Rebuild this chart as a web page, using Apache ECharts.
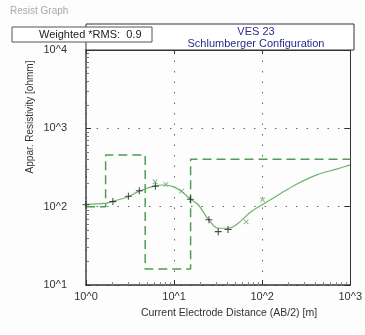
<!DOCTYPE html>
<html>
<head>
<meta charset="utf-8">
<script src="https://cdn.jsdelivr.net/npm/echarts@6/dist/echarts.min.js"></script>
<style>
  html, body { margin: 0; padding: 0; background: #fdfdfd; }
  #chart { width: 365px; height: 335px; }
</style>
</head>
<body>
<div id="chart"></div>
<script>
// Sounding VES 23 – apparent resistivity vs. AB/2 (log–log)

// Header texts
const windowTitle = 'Resist Graph';
const titleLines = ['VES 23', 'Schlumberger Configuration'];
const rmsLabel = 'Weighted *RMS:  0.9';
const xAxisName = 'Current Electrode Distance (AB/2) [m]';
const yAxisName = 'Appar. Resistivity [ohmm]';

// Tick labels by decade exponent
const xTickLabels = { 0: '10^0', 1: '10^1', 2: '10^2', 3: '10^3' };
const yTickLabels = { 1: '10^1', 2: '10^2', 3: '10^3', 4: '10^4' };

// Layered model: resistivity of each layer and AB/2 at each boundary
const layerRho = [100, 457, 16, 403];
const layerBounds = [1.67, 4.7, 15.4];

// Field measurements (black +)
const measAB  = [1.0, 2.02, 3.03, 4.03, 6.13, 15.3, 24.9, 31.7, 41];
const measRho = [106, 116, 136, 160, 182, 124, 68, 48, 51];

// Second set of readings (green x)
const altAB  = [6.08, 8.07, 12.2, 65.7, 101];
const altRho = [208, 192, 158, 64, 122];

// Calculated response curve of the model
const curveAB  = [1.0, 1.63, 2.0, 3.03, 4.03, 6.08, 7.67, 9.9, 12.2, 15.3, 18.9, 24.5, 31.7, 41, 53, 74.7, 106, 149, 249, 417, 699, 1000];
const curveRho = [107, 110, 117, 134, 158, 184, 189, 179, 156, 125, 105, 69, 53, 53, 61, 86, 110, 139, 195, 255, 302, 341];

// Build the step outline of the model
const modelPts = [];
let xStart = 1;
layerRho.forEach((rho, i) => {
  const xEnd = i < layerBounds.length ? layerBounds[i] : 1000;
  modelPts.push([xStart, rho], [xEnd, rho]);
  xStart = xEnd;
});

const zip = (a, b) => a.map((v, i) => [v, b[i]]);

const plusPath = 'path://M3.4,0h1.2v3.4h3.4v1.2h-3.4v3.4h-1.2v-3.4h-3.4v-1.2h3.4z';
const FONT = 'Arial, "Liberation Sans", sans-serif';

const expOf = v => Math.round(Math.log10(v));

const chart = echarts.init(document.getElementById('chart'), null, { renderer: 'canvas' });

const gridLine = { show: true, lineStyle: { color: '#666', width: 1, type: [1.5, 9] } };

chart.setOption({
  animation: false,
  backgroundColor: '#fdfdfd',
  grid: { left: 86, right: 11, top: 50, bottom: 50, containLabel: false },
  xAxis: [{
    type: 'log', logBase: 10, min: 1, max: 1000,
    axisLine: { show: true, lineStyle: { color: '#333', width: 1.5 } },
    axisTick: { show: true, inside: true, length: 5, lineStyle: { color: '#333' } },
    minorTick: { show: true, splitNumber: 9, length: 3, lineStyle: { color: '#888' } },
    axisLabel: { color: '#333', fontSize: 11, fontFamily: FONT, margin: 6,
                 formatter: v => xTickLabels[expOf(v)] || '' },
    splitLine: gridLine
  }, {
    type: 'log', logBase: 10, min: 1, max: 1000, position: 'top',
    axisLine: { show: true, lineStyle: { color: '#333', width: 1 } },
    axisTick: { show: true, inside: true, length: 4, lineStyle: { color: '#333' } },
    axisLabel: { show: false }, splitLine: { show: false }
  }],
  yAxis: [{
    type: 'log', logBase: 10, min: 10, max: 10000,
    axisLine: { show: true, lineStyle: { color: '#444', width: 1.5 } },
    axisTick: { show: true, inside: true, length: 5, lineStyle: { color: '#333' } },
    minorTick: { show: true, splitNumber: 9, length: 3, lineStyle: { color: '#777' } },
    axisLabel: { color: '#333', fontSize: 11, fontFamily: FONT, margin: 19,
                 formatter: v => yTickLabels[expOf(v)] || '' },
    splitLine: gridLine
  }, {
    type: 'log', logBase: 10, min: 10, max: 10000, position: 'right',
    axisLine: { show: true, lineStyle: { color: '#333', width: 1 } },
    axisTick: { show: true, inside: true, length: 6, lineStyle: { color: '#333' } },
    axisLabel: { show: false }, splitLine: { show: false }
  }],
  series: [{
    name: 'model',
    type: 'line',
    data: modelPts,
    showSymbol: false,
    lineStyle: { color: '#4f9f4f', width: 1.5, type: [9, 5] },
    z: 2
  }, {
    name: 'calculated',
    type: 'line',
    data: zip(curveAB, curveRho),
    smooth: 0.35,
    showSymbol: false,
    lineStyle: { color: '#6db46d', width: 1.2 },
    z: 3
  }, {
    name: 'measured',
    type: 'scatter',
    data: zip(measAB, measRho),
    symbol: plusPath,
    symbolSize: 7,
    itemStyle: { color: '#1e1e1e' },
    z: 5
  }, {
    name: 'alternate',
    type: 'scatter',
    data: zip(altAB, altRho),
    symbol: plusPath,
    symbolSize: 6.5,
    symbolRotate: 45,
    itemStyle: { color: '#6aaa6a' },
    z: 4
  }],
  graphic: [{
    type: 'text', left: 10, top: 6,
    style: { text: windowTitle, fill: '#a9a9a9', font: '10px ' + FONT }
  }, {
    type: 'rect', shape: { x: 86, y: 24, width: 268, height: 26 },
    style: { fill: '#ffffff', stroke: '#333', lineWidth: 1 }, z: 10
  }, {
    type: 'text', x: 256, y: 32,
    style: { text: titleLines[0], fill: '#2b2b8c', font: '11px ' + FONT, align: 'center', verticalAlign: 'middle' }, z: 11
  }, {
    type: 'text', x: 256, y: 44,
    style: { text: titleLines[1], fill: '#2b2b8c', font: '11px ' + FONT, align: 'center', verticalAlign: 'middle' }, z: 11
  }, {
    type: 'rect', shape: { x: 12, y: 27, width: 140, height: 15 },
    style: { fill: '#ffffff', stroke: '#555', lineWidth: 1 }, z: 12
  }, {
    type: 'text', x: 39, y: 35,
    style: { text: rmsLabel, fill: '#222', font: '11px ' + FONT, align: 'left', verticalAlign: 'middle' }, z: 13
  }, {
    type: 'text', x: 30, y: 117, rotation: Math.PI / 2,
    style: { text: yAxisName, fill: '#333', font: '10px ' + FONT, align: 'center', verticalAlign: 'middle' }
  }, {
    type: 'text', x: 229, y: 313,
    style: { text: xAxisName, fill: '#333', font: '10.5px ' + FONT, align: 'center', verticalAlign: 'middle' }
  }]
});
</script>
</body>
</html>
